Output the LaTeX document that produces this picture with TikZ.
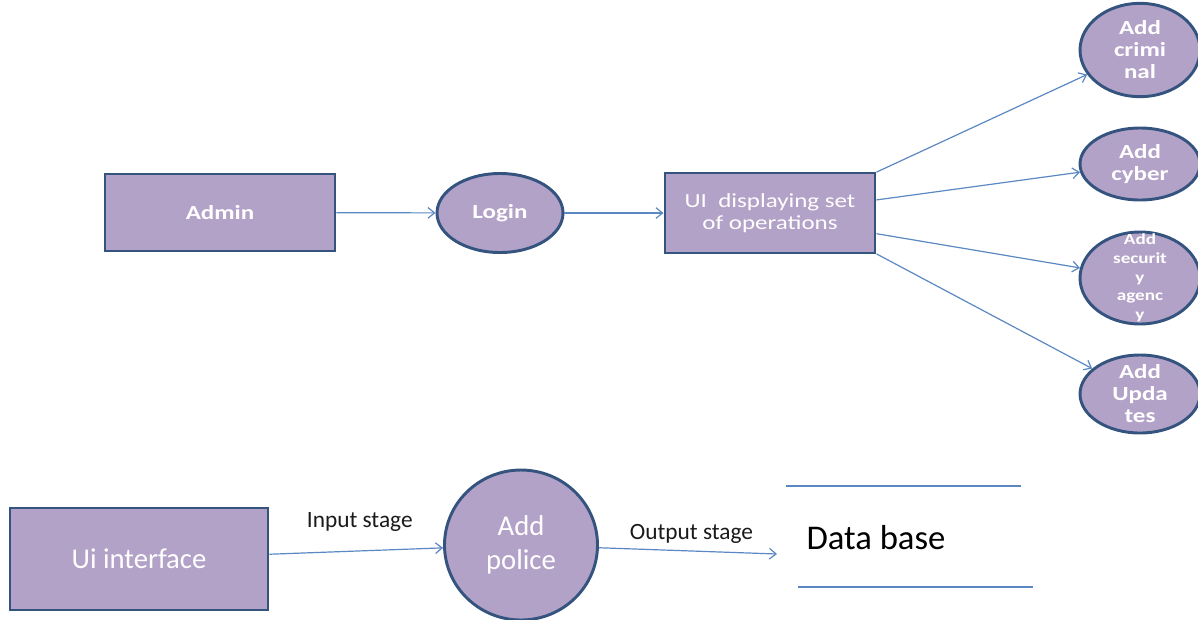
\documentclass[tikz,border=0pt]{standalone}
\usepackage{fontspec}
\setmainfont{Carlito}
\newfontfamily\wideface[FakeStretch=1.25]{Carlito}
\usetikzlibrary{shapes.geometric, arrows.meta}
\definecolor{boxfill}{HTML}{B3A2C7}
\definecolor{boxline}{HTML}{34547F}
\definecolor{flowline}{HTML}{5B87C2}
\definecolor{labeltext}{HTML}{1A1A1A}
\tikzset{
  >={Straight Barb[length=5pt, width=8pt]},
  procbox/.style={draw=boxline, line width=2.2pt, fill=boxfill, text=white, align=center, inner sep=0pt},
  procoval/.style={ellipse, draw=boxline, line width=2.2pt, fill=boxfill, inner sep=0pt},
  ovaltext/.style={text=white, align=center, font=\wideface\bfseries\fontsize{15}{16.5}\selectfont},
  flow/.style={->, draw=flowline, line width=0.9pt},
  stagelabel/.style={text=labeltext, font=\fontsize{17.5}{20}\selectfont},
}
\begin{document}
\begin{tikzpicture}[x=0.75pt, y=-0.75pt]
\useasboundingbox (0,0) rectangle (1198,619);

% Top flow
\node[procbox, minimum width=172.5pt, minimum height=57.75pt, font=\wideface\bfseries\fontsize{15}{18}\selectfont] (admin) at (220,212.5) {Admin};
\node[procoval, minimum width=94.5pt, minimum height=59.25pt, label={[text=white, font=\wideface\bfseries\fontsize{15}{18}\selectfont]center:Login}] (login) at (500,213) {};
\node[procbox, minimum width=157.5pt, minimum height=60pt, font=\wideface\fontsize{15}{16.5}\selectfont] (ui) at (770,213) {UI\ \ displaying set\\of operations};

% Operations
\node[procoval, minimum width=90pt, minimum height=70pt, label={[ovaltext]center:Add\\crimi\\nal}] (criminal) at (1140,50) {};
\node[procoval, minimum width=90pt, minimum height=54pt, label={[ovaltext]center:Add\\cyber}] (cyber) at (1140,164) {};
\node[procoval, minimum width=90pt, minimum height=69pt, label={[ovaltext, font=\wideface\bfseries\fontsize{11.5}{14}\selectfont]center:Add\\securit\\y\\agenc\\y}] (security) at (1140,278) {};
\node[procoval, minimum width=90pt, minimum height=58.5pt, label={[ovaltext]center:Add\\Upda\\tes}] (updates) at (1140,394) {};

\draw[flow] (admin) -- (login);
\draw[flow] (login) -- (ui);
\draw[flow] (ui.21) -- (criminal);
\draw[flow] (ui.7) -- (cyber);
\draw[flow] (ui.-11) -- (security);
\draw[flow] (ui.-21) -- (updates);

% Bottom flow
\node[procbox, minimum width=193.5pt, minimum height=76.5pt, font=\fontsize{21.5}{26}\selectfont] (uiface) at (139,559) {Ui interface};
\node[procoval, minimum width=114.75pt, minimum height=112.5pt, label={[text=white, align=center, font=\fontsize{21.5}{25.5}\selectfont]center:Add\\police}] (police) at (521,545) {};
\coordinate (dbin) at (777,554);

\draw[flow] (uiface) -- (police) node[stagelabel, pos=0.52, above=11pt] (instage) {Input stage};
\draw[flow] (police) -- (dbin) node[stagelabel, pos=0.52, above=2pt] (outstage) {Output stage};

% Data store
\coordinate (dbtopl) at (786,486);
\coordinate (dbtopr) at (1021,486);
\coordinate (dbbotl) at (798,587);
\coordinate (dbbotr) at (1033,587);
\draw[flowline, line width=1pt] (dbtopl) -- (dbtopr);
\draw[flowline, line width=1pt] (dbbotl) -- (dbbotr);
\node[text=black, font=\fontsize{26}{30}\selectfont] (db) at (876,538) {Data base};
\end{tikzpicture}
\end{document}
